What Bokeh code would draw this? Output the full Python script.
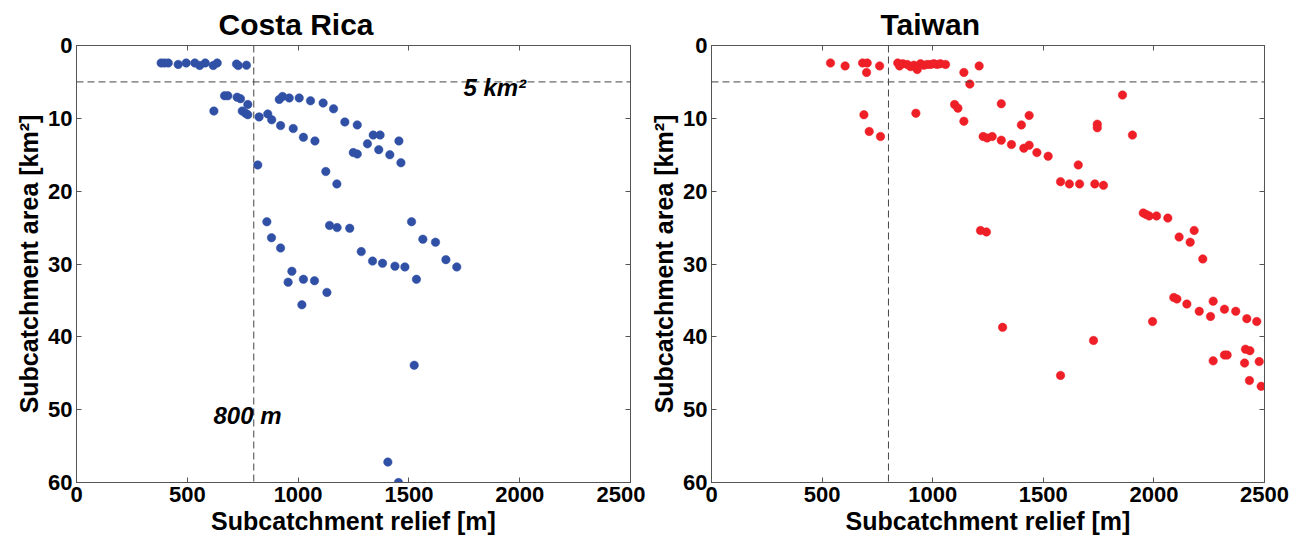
from bokeh.plotting import figure
from bokeh.layouts import row
from bokeh.models import (Range1d, LinearAxis, Span, Label, FixedTicker, Title,
                          CustomJSTickFormatter)
from bokeh.embed import file_html
from bokeh.resources import INLINE

# ---- data ----
cr_relief = [382, 397, 414, 459, 495, 534, 556, 581, 617, 635, 722, 730, 767,
             620, 668, 683, 725, 740, 773, 748, 763, 773, 824, 863, 881, 921, 978, 1024, 1076,
             818, 1125, 1175,
             915, 930, 960, 1005, 1056, 1113, 1160, 1211, 1267, 1313, 1339, 1370, 1249, 1267,
             1364, 1414, 1455, 1464,
             1512, 859, 1142, 1176, 1233,
             880, 921, 972, 955, 1024, 1017, 1074, 1130,
             1285, 1336, 1381, 1437, 1482, 1563, 1620, 1667, 1716, 1534, 1524, 1405, 1453]
cr_area = [2.4, 2.4, 2.4, 2.6, 2.4, 2.4, 2.75, 2.4, 2.75, 2.4, 2.55, 2.75, 2.7,
           9.0, 6.9, 6.9, 7.1, 7.3, 8.1, 9.0, 9.3, 9.5, 9.8, 9.4, 10.2, 11.0, 11.4, 12.6, 13.1,
           16.4, 17.3, 19.0,
           7.4, 7.0, 7.2, 7.2, 7.6, 7.9, 8.7, 10.5, 10.9, 13.5, 12.3, 12.3, 14.7, 14.9,
           14.3, 15.0, 13.1, 16.1,
           24.2, 24.2, 24.7, 25.0, 25.1,
           26.4, 27.8, 31.0, 32.5, 32.1, 35.6, 32.3, 33.9,
           28.3, 29.6, 29.9, 30.3, 30.4, 26.6, 27.0, 29.4, 30.4, 32.1, 43.9, 57.2, 60.0]

tw_relief = [538, 604, 683, 704, 701, 760, 842, 850, 865, 885, 900, 915, 930, 945, 960, 975,
             990, 1005, 1020, 1035, 1058, 1141, 1168, 1210,
             689, 713, 764, 924, 1099, 1114, 1141, 1228, 1246, 1269, 1310, 1310, 1356, 1401,
             1436, 1412, 1436, 1471, 1522, 1658, 1578, 1618, 1664, 1733, 1772, 1744, 1744,
             1858, 1903, 1952, 1965, 1979, 2012, 2063, 2182, 1216, 1243, 2114, 2164, 2221,
             2090, 2104, 2149, 2205, 2256, 2268, 2319, 2370, 2420, 2465, 1994, 1316, 1727,
             1578, 2268, 2319, 2331, 2414, 2434, 2410, 2476, 2432, 2485]
tw_area = [2.4, 2.8, 2.4, 2.4, 3.7, 2.8, 2.4, 2.8, 2.5, 2.6, 2.9, 2.7, 3.3, 2.5, 2.7, 2.6,
           2.6, 2.5, 2.6, 2.5, 2.6, 3.7, 5.3, 2.8,
           9.5, 11.8, 12.5, 9.3, 8.1, 8.6, 10.4, 12.5, 12.7, 12.5, 8.0, 13.0, 13.6, 10.9,
           9.6, 14.1, 13.7, 14.7, 15.2, 16.4, 18.7, 19.0, 19.0, 19.0, 19.2, 10.8, 11.3,
           6.8, 12.3, 23.0, 23.2, 23.4, 23.4, 23.7, 25.4, 25.4, 25.6, 26.3, 27.0, 29.3,
           34.6, 34.8, 35.5, 36.5, 37.2, 35.1, 36.2, 36.5, 37.5, 37.9, 37.9, 38.7, 40.5,
           45.3, 43.3, 42.5, 42.5, 41.7, 41.9, 43.6, 43.4, 46.0, 46.8]

x_ticks = [0, 500, 1000, 1500, 2000, 2500]
y_ticks = [0, 10, 20, 30, 40, 50, 60]
relief_threshold = 800
area_threshold = 5

FONT = "Liberation Sans"
AX_COL = "#555555"


def style_axis(ax, ticks, show_labels=True):
    ax.ticker = FixedTicker(ticks=ticks)
    ax.major_tick_in = 5
    ax.major_tick_out = 0
    ax.minor_tick_in = 0
    ax.minor_tick_out = 0
    ax.axis_line_color = AX_COL
    ax.major_tick_line_color = AX_COL
    ax.major_label_text_font = FONT
    ax.major_label_text_font_style = "bold"
    ax.major_label_text_font_size = "22px"
    ax.major_label_text_color = "black"
    ax.axis_label_text_font = FONT
    ax.axis_label_text_font_style = "bold"
    ax.axis_label_text_font_size = "25px"
    ax.axis_label_text_color = "black"
    ax.major_label_standoff = 4
    ax.axis_label_standoff = 2
    if not show_labels:
        ax.formatter = CustomJSTickFormatter(code="return ''")
        ax.major_label_standoff = 0
        ax.axis_label = None


def make_panel(title, xs, ys, color, width, bl, br, title_off, annotate):
    p = figure(width=width, height=538, output_backend="svg", toolbar_location=None,
               x_range=Range1d(0, 2500), y_range=Range1d(60, 0),
               min_border_left=bl, min_border_right=br, min_border_top=45,
               min_border_bottom=56)
    p.grid.visible = False
    p.outline_line_color = AX_COL
    p.background_fill_color = "white"
    p.border_fill_color = "white"
    p.xaxis.axis_label = "Subcatchment relief [m]"
    p.yaxis.axis_label = "Subcatchment area [km²]"
    for ax in p.xaxis:
        style_axis(ax, x_ticks)
    for ax in p.yaxis:
        style_axis(ax, y_ticks)
    top = LinearAxis()
    right = LinearAxis()
    p.add_layout(top, "above")
    p.add_layout(right, "right")
    style_axis(top, x_ticks, False)
    style_axis(right, y_ticks, False)

    p.title = Title(text=title, align="left", offset=title_off, text_font=FONT,
                    text_font_style="bold", text_font_size="30px", text_color="black",
                    standoff=9)

    p.add_layout(Span(location=area_threshold, dimension="width", line_color="#444444",
                      line_dash="7 4", line_width=1))
    p.add_layout(Span(location=relief_threshold, dimension="height", line_color="#444444",
                      line_dash="7 4", line_width=1))

    p.scatter(xs, ys, size=8.5, fill_color=color, line_color=color, line_width=0.5)

    if annotate:
        p.add_layout(Label(x=1746, y=5.8, text="5 km²", text_font=FONT,
                           text_font_style="bold italic", text_font_size="24px",
                           text_baseline="alphabetic", text_color="black"))
        p.add_layout(Label(x=618, y=50.8, text="800 m", text_font=FONT,
                           text_font_style="bold italic", text_font_size="24px",
                           text_baseline="alphabetic", text_color="black"))
    return p


p1 = make_panel("Costa Rica", cr_relief, cr_area, "#3050a6", 645, 76, 15, 142, True)
p2 = make_panel("Taiwan", tw_relief, tw_area, "#ee1f26", 659, 66, 40, 169, False)

layout = row(p1, p2)
open("out.html", "w").write(file_html(layout, INLINE))
